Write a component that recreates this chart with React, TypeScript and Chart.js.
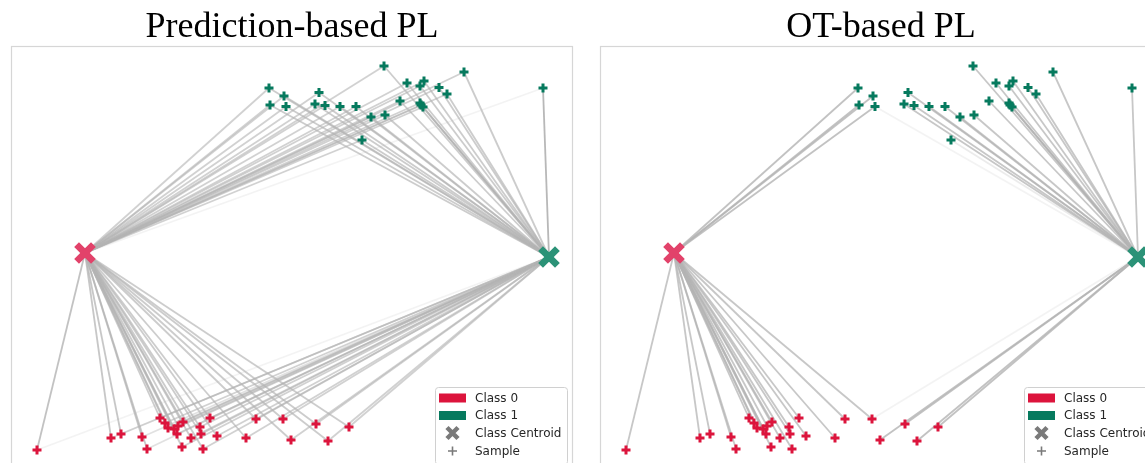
import React, { useEffect, useRef } from "react";
import { Chart, registerables } from "chart.js";
Chart.register(...registerables);

// ---------- data ----------
const panelTitles = ["Prediction-based PL", "OT-based PL"];
const legendLabels = ["Class 0", "Class 1", "Class Centroid", "Sample"];

// Class 0 samples (embedding coordinates)
const class0X = [-4.7, 2.7, 3.7, 5.8, 6.3, 7.6, 8.1, 9.0, 9.3, 9.9, 9.8, 10.7, 11.6, 11.7, 11.9, 12.6, 13.3, 16.2, 17.2, 19.9, 20.7, 23.2, 24.4, 26.5, 8.4, 9.4];
const class0Y = [-19.5, -18.3, -17.9, -18.2, -19.4, -16.3, -16.8, -17.4, -17.9, -16.7, -19.2, -18.3, -17.2, -17.9, -19.4, -16.3, -18.1, -18.3, -16.4, -16.4, -18.5, -16.9, -18.6, -17.2, -17.3, -17.1];

// Class 1 samples
const class1X = [18.5, 20.0, 18.6, 20.2, 23.5, 23.1, 24.1, 25.6, 27.2, 28.7, 30.1, 27.8, 30.0, 32.3, 34.0, 33.6, 35.5, 36.3, 31.6, 33.6, 33.9, 33.7, 38.0, 45.9];
const class1Y = [16.7, 15.9, 15.0, 14.85, 16.25, 15.1, 14.95, 14.85, 14.85, 13.8, 14.0, 11.5, 18.9, 17.2, 17.4, 16.9, 16.75, 16.1, 15.4, 15.2, 14.8, 15.0, 18.3, 16.7];

// Class centroids
const centroidX = [0.1, 46.5];
const centroidY = [0.2, -0.2];

// Link strengths (opacity) from each sample to centroid 0 / centroid 1
const predC0toCentroid0 = [0.6, 0.55, 0.55, 0.55, 0.55, 0.5, 0.5, 0.5, 0.5, 0.5, 0.5, 0.5, 0.5, 0.5, 0.5, 0.5, 0.5, 0.5, 0.5, 0.5, 0.5, 0.5, 0.5, 0.5, 0.5, 0.5];
const predC0toCentroid1 = [0.12, 0.3, 0.3, 0.3, 0.3, 0.45, 0.45, 0.45, 0.45, 0.45, 0.45, 0.45, 0.45, 0.45, 0.45, 0.45, 0.45, 0.45, 0.45, 0.45, 0.45, 0.45, 0.45, 0.45, 0.45, 0.45];
const predC1toCentroid0 = [0.45, 0.45, 0.45, 0.45, 0.45, 0.45, 0.45, 0.45, 0.45, 0.45, 0.45, 0.45, 0.45, 0.45, 0.45, 0.45, 0.45, 0.45, 0.45, 0.45, 0.45, 0.45, 0.45, 0.12];
const predC1toCentroid1 = [0.5, 0.5, 0.5, 0.5, 0.5, 0.5, 0.5, 0.5, 0.5, 0.5, 0.5, 0.5, 0.5, 0.5, 0.5, 0.5, 0.5, 0.5, 0.5, 0.5, 0.5, 0.5, 0.5, 0.7];

const otC0toCentroid0 = [0.55, 0.55, 0.55, 0.55, 0.55, 0.55, 0.55, 0.55, 0.55, 0.55, 0.55, 0.55, 0.55, 0.55, 0.55, 0.55, 0.55, 0.55, 0.55, 0.55, 0, 0, 0, 0, 0.55, 0.55];
const otC0toCentroid1 = [0, 0, 0, 0, 0, 0, 0, 0, 0, 0, 0, 0, 0, 0, 0, 0, 0, 0, 0, 0.12, 0.6, 0.6, 0.6, 0.6, 0, 0];
const otC1toCentroid0 = [0.6, 0.6, 0.6, 0.6, 0, 0, 0, 0, 0, 0, 0, 0, 0, 0, 0, 0, 0, 0, 0, 0, 0, 0, 0, 0];
const otC1toCentroid1 = [0, 0, 0, 0.12, 0.55, 0.55, 0.55, 0.55, 0.55, 0.55, 0.55, 0.2, 0.55, 0.55, 0.55, 0.55, 0.55, 0.55, 0.55, 0.55, 0.55, 0.55, 0.55, 0.55];

const panelLinks = [
  [predC0toCentroid0, predC0toCentroid1, predC1toCentroid0, predC1toCentroid1],
  [otC0toCentroid0, otC0toCentroid1, otC1toCentroid0, otC1toCentroid1],
];

// ---------- style ----------
const COLOR0 = "#DC143C";
const COLOR1 = "#067A5E";
const CENTROID0 = "#E2426A";
const CENTROID1 = "#2B9277";
const LEGEND_GRAY = "#7a7a7a";

function makeXMarker(color: string, size: number, thick: number) {
  const c = document.createElement("canvas");
  c.width = size;
  c.height = size;
  const ctx = c.getContext("2d")!;
  ctx.strokeStyle = color;
  ctx.lineWidth = thick;
  ctx.lineCap = "butt";
  const m = thick * 0.38;
  ctx.beginPath();
  ctx.moveTo(m, m);
  ctx.lineTo(size - m, size - m);
  ctx.moveTo(size - m, m);
  ctx.lineTo(m, size - m);
  ctx.stroke();
  return c;
}

const framePlugin = {
  id: "frame",
  beforeDatasetsDraw(chart: any) {
    const { ctx, chartArea: a } = chart;
    ctx.save();
    ctx.strokeStyle = "#d6d6d6";
    ctx.lineWidth = 1.2;
    ctx.strokeRect(a.left + 0.5, a.top + 0.5, a.right - a.left - 1, a.bottom - a.top - 1);
    ctx.restore();
  },
};

const legendPlugin = {
  id: "boxLegend",
  afterDraw(chart: any) {
    const { ctx, chartArea: a } = chart;
    const right = a.right - 6;
    const left = right - 132;
    const top = a.bottom - 81;
    const bottom = a.bottom - 4;
    ctx.save();
    ctx.fillStyle = "rgba(255,255,255,0.85)";
    ctx.strokeStyle = "#d0d0d0";
    ctx.lineWidth = 1;
    ctx.beginPath();
    ctx.roundRect(left + 0.5, top + 0.5, right - left, bottom - top, 3);
    ctx.fill();
    ctx.stroke();
    const rows = [top + 11, top + 28.5, top + 46, top + 64];
    const iconCx = left + 17.5;
    ctx.fillStyle = COLOR0;
    ctx.fillRect(left + 4, rows[0] - 4.5, 27, 9);
    ctx.fillStyle = COLOR1;
    ctx.fillRect(left + 4, rows[1] - 4.5, 27, 9);
    ctx.strokeStyle = LEGEND_GRAY;
    ctx.lineWidth = 4.5;
    ctx.beginPath();
    ctx.moveTo(iconCx - 5.5, rows[2] - 5.5);
    ctx.lineTo(iconCx + 5.5, rows[2] + 5.5);
    ctx.moveTo(iconCx + 5.5, rows[2] - 5.5);
    ctx.lineTo(iconCx - 5.5, rows[2] + 5.5);
    ctx.stroke();
    ctx.lineWidth = 1.6;
    ctx.beginPath();
    ctx.moveTo(iconCx - 4.5, rows[3]);
    ctx.lineTo(iconCx + 4.5, rows[3]);
    ctx.moveTo(iconCx, rows[3] - 4.5);
    ctx.lineTo(iconCx, rows[3] + 4.5);
    ctx.stroke();
    ctx.fillStyle = "#262626";
    ctx.font = "12px 'DejaVu Sans'";
    ctx.textBaseline = "middle";
    legendLabels.forEach((t, i) => ctx.fillText(t, left + 40, rows[i] + 0.5));
    ctx.restore();
  },
};

function Panel({ index, left }: { index: number; left: number }) {
  const ref = useRef<HTMLCanvasElement>(null);
  useEffect(() => {
    const links = panelLinks[index];
    const datasets: any[] = [];
    const x0 = makeXMarker(CENTROID0, 22, 6.8);
    const x1 = makeXMarker(CENTROID1, 22, 6.8);
    datasets.push({
      data: [{ x: centroidX[0], y: centroidY[0] }],
      pointStyle: x0,
      order: 0,
    });
    datasets.push({
      data: [{ x: centroidX[1], y: centroidY[1] }],
      pointStyle: x1,
      order: 0,
    });
    datasets.push({
      data: class0X.map((x, i) => ({ x, y: class0Y[i] })),
      pointStyle: "cross",
      pointRadius: 4.5,
      borderColor: COLOR0,
      pointBorderWidth: 3,
      order: 1,
    });
    datasets.push({
      data: class1X.map((x, i) => ({ x, y: class1Y[i] })),
      pointStyle: "cross",
      pointRadius: 4.5,
      borderColor: COLOR1,
      pointBorderWidth: 3,
      order: 1,
    });
    const addLinks = (xs: number[], ys: number[], w0: number[], w1: number[]) => {
      xs.forEach((x, i) => {
        [w0[i], w1[i]].forEach((w, c) => {
          if (!w) return;
          const alpha = Math.min(1, w * 1.35);
          datasets.push({
            data: [
              { x: centroidX[c], y: centroidY[c] },
              { x, y: ys[i] },
            ],
            showLine: true,
            borderColor: `rgba(180,180,180,${alpha})`,
            borderWidth: 1.8,
            pointRadius: 0,
            order: 2,
          });
        });
      });
    };
    addLinks(class0X, class0Y, links[0], links[1]);
    addLinks(class1X, class1Y, links[2], links[3]);

    const chart = new Chart(ref.current!, {
      type: "scatter",
      data: { datasets },
      options: {
        responsive: false,
        animation: false,
        events: [],
        layout: { padding: { left: 11, right: 12, top: 0, bottom: 12 } },
        scales: {
          x: { type: "linear", min: -7.3, max: 48.9, display: false },
          y: { type: "linear", min: -21.3, max: 20.9, display: false },
        },
        plugins: {
          legend: { display: false },
          tooltip: { enabled: false },
          title: {
            display: true,
            text: panelTitles[index],
            color: "#000",
            font: { family: "'Liberation Serif', 'Times New Roman', serif", size: 36, weight: "normal", lineHeight: 1 },
            padding: { top: 10, bottom: 0 },
          },
        },
      },
      plugins: [framePlugin, legendPlugin],
    } as any);
    return () => chart.destroy();
  }, [index]);
  return (
    <canvas
      ref={ref}
      width={585}
      height={480}
      style={{ position: "absolute", left, top: 0, width: 585, height: 480 }}
    />
  );
}

export default function App() {
  return (
    <div
      style={{
        position: "absolute",
        left: 0,
        top: 0,
        width: 1145,
        height: 463,
        overflow: "hidden",
        background: "#fff",
      }}
    >
      <Panel index={0} left={0} />
      <Panel index={1} left={589} />
    </div>
  );
}
